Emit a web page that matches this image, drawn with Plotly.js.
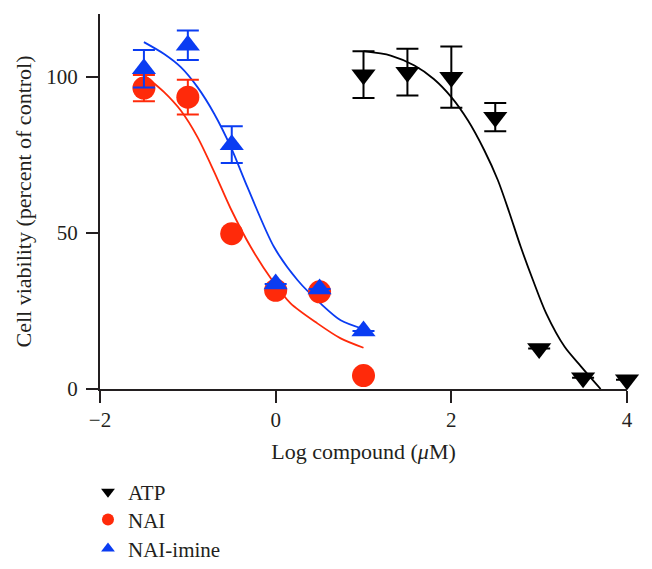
<!DOCTYPE html>
<html>
<head>
<meta charset="utf-8">
<script src="https://cdn.plot.ly/plotly-3.0.1.min.js"></script>
<style>html,body{margin:0;padding:0;background:#fff;}#chart{width:652px;height:569px;}</style>
</head>
<body>
<div id="chart"></div>
<script>
// ---- data ----
const seriesNames = ["ATP", "NAI", "NAI-imine"];

const atpX = [1, 1.5, 2, 2.5, 3, 3.5, 4];
const atpY = [100.6, 101.4, 99.8, 87, 13, 3.6, 3.0];
const atpErr = [7.5, 7.5, 9.8, 4.5, 0, 0, 0];

const naiX = [-1.5, -1, -0.5, 0, 0.5, 1];
const naiY = [96.3, 93.4, 49.7, 31.6, 31.1, 4.3];
const naiErr = [4.2, 5.6, 0, 0, 0, 0];

const imineX = [-1.5, -1, -0.5, 0, 0.5, 1];
const imineY = [102.5, 110, 78.2, 33.6, 32.0, 18.6];
const imineErr = [6, 4.7, 5.9, 0, 0, 0];

// fitted curves, points
const atpFitX = [1.0, 1.31, 1.58, 1.80, 2.0, 2.19, 2.375, 2.53, 2.66, 2.79, 2.93, 3.08, 3.29, 3.48, 3.70];
const atpFitY = [108.1, 106.7, 103.5, 99.2, 93.4, 85.9, 76.4, 66.8, 56.5, 45.5, 34.8, 24.2, 13.5, 7.1, 0];

const naiFitX = [-1.5, -1.27, -1.08, -0.89, -0.70, -0.51, -0.285, -0.04, 0.17, 0.475, 0.74, 1.0];
const naiFitY = [100.5, 95.0, 89.1, 80.6, 69.5, 57.6, 45.5, 34.8, 27.4, 21.0, 16.2, 13.2];

const imineFitX = [-1.5, -1.27, -1.08, -0.89, -0.70, -0.51, -0.32, -0.02, 0.25, 0.51, 0.74, 1.0];
const imineFitY = [111.0, 107.2, 103.0, 96.6, 88.1, 77.4, 64.5, 45.5, 34.8, 27.4, 22.0, 19.2];

const xTickVals = [-2, 0, 2, 4];
const yTickVals = [0, 50, 100];

// ---- styling ----
const BLACK = "#000000";
const RED = "#ff2a0a";
const BLUE = "#0a3cf2";
const TXT = "#231f20";
const FONT = "Liberation Serif, Times New Roman, serif";

function errBar(arr, color) {
  return {type: "data", array: arr, visible: true, color: color, thickness: 2, width: 11};
}

const traces = [
  {x: atpFitX, y: atpFitY, mode: "lines", line: {color: BLACK, width: 1.8, shape: "spline", smoothing: 0.8}, showlegend: false, hoverinfo: "skip"},
  {x: naiFitX, y: naiFitY, mode: "lines", line: {color: RED, width: 1.8, shape: "spline", smoothing: 0.8}, showlegend: false, hoverinfo: "skip"},
  {x: imineFitX, y: imineFitY, mode: "lines", line: {color: BLUE, width: 1.8, shape: "spline", smoothing: 0.8}, showlegend: false, hoverinfo: "skip"},
  {x: atpX, y: atpY, name: seriesNames[0], mode: "markers", cliponaxis: false, legend: "legend",
   marker: {symbol: "triangle-down", size: 21, color: BLACK}, error_y: errBar(atpErr, BLACK)},
  {x: naiX, y: naiY, name: seriesNames[1], mode: "markers", cliponaxis: false, legend: "legend2",
   marker: {symbol: "circle", size: 23, color: RED}, error_y: errBar(naiErr, RED)},
  {x: imineX, y: imineY, name: seriesNames[2], mode: "markers", cliponaxis: false, legend: "legend3",
   marker: {symbol: "triangle-up", size: 21, color: BLUE}, error_y: errBar(imineErr, BLUE)}
];

function legendAt(yPaper) {
  return {x: -0.0228, xanchor: "left", y: yPaper, yanchor: "top",
          font: {family: FONT, size: 21, color: TXT}, itemsizing: "constant",
          bgcolor: "rgba(0,0,0,0)", borderwidth: 0};
}

const layout = {
  width: 652, height: 569,
  margin: {l: 100, r: 25, t: 14, b: 180, autoexpand: false},
  paper_bgcolor: "#ffffff", plot_bgcolor: "#ffffff",
  font: {family: FONT, size: 21, color: TXT},
  showlegend: true,
  legend: legendAt(-0.2205),
  legend2: legendAt(-0.2941),
  legend3: legendAt(-0.3715),
  xaxis: {range: [-2, 4], tickvals: xTickVals, ticks: "outside", ticklen: 12, tickwidth: 2,
          tickcolor: TXT, showline: true, linecolor: TXT, linewidth: 2, showgrid: false, zeroline: false,
          tickfont: {family: FONT, size: 21, color: TXT}, ticklabelstandoff: -1,
          title: {text: "Log compound (<i>μ</i>M)", font: {family: FONT, size: 22, color: TXT}, standoff: 12}},
  yaxis: {range: [0, 120], tickvals: yTickVals, ticks: "outside", ticklen: 12, tickwidth: 2,
          tickcolor: TXT, showline: true, linecolor: TXT, linewidth: 2, showgrid: false, zeroline: false,
          tickfont: {family: FONT, size: 21, color: TXT}, ticklabelstandoff: 4,
          title: {text: "Cell viability (percent of control)", font: {family: FONT, size: 22, color: TXT}, standoff: 9}}
};

Plotly.newPlot("chart", traces, layout, {staticPlot: true});
</script>
</body>
</html>
